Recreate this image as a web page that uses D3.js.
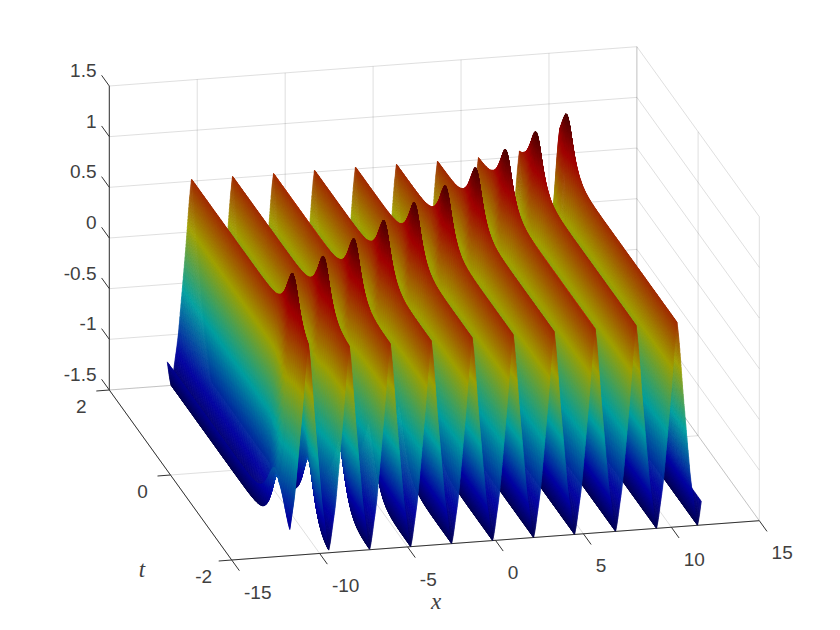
<!DOCTYPE html>
<html><head><meta charset="utf-8">
<style>html,body{margin:0;background:#fff}#w{position:relative;width:840px;height:630px}svg,canvas{position:absolute;left:0;top:0;display:block}text{font-family:"Liberation Sans",Arial,sans-serif;fill:#404040}</style>
<script src="https://cdn.jsdelivr.net/npm/d3@7"></script></head><body><div id="w"></div>
<script>
// Axis ticks
const xTicks=[-15,-10,-5,0,5,10,15];
const tTicks=[-2,0,2];
const zTicks=[-1.5,-1,-0.5,0,0.5,1,1.5];
const zTickLabels=["-1.5","-1","-0.5","0","0.5","1","1.5"];
// Ridges (x of the crest on the front edge t=-2, ascending)
const ridgeCenters=[-10.65,-8.32,-5.99,-3.66,-1.33,1.0,3.33,5.66,7.99,10.32];
// t at which the diagonal wave crosses each ridge
const peakT=[-1.44,-1.11,-0.77,-0.41,-0.065,0.26,0.61,0.97,1.32,1.66];
// Ridge cross-section, sampled evenly from crest (first) to valley (last)
const profileZ=[0.52,0.38,0.17,-0.07,-0.28,-0.47,-0.67,-0.86,-1.05,-1.17,-1.29,-1.42,-1.5];
// Height the diagonal wave adds, sampled evenly from crest to valley
const bumpA=[0.5,0.68,0.72,0.62,0.6];
const ridgePeriod=2.33, crestShift=0.33, bumpWidth=0.32, shiftWidth=0.25;
const halfPeriod=1.165;
const xExtent=[-11.7,11.7], tExtent=[-2,2];
const jetStops=[0,0.125,0.375,0.625,0.875,1];
const jetColors=["#000080","#0000ff","#00ffff","#ffff00","#ff0000","#800000"];

const W=840,H=630;
const root=d3.select("#w");
const svg=root.append("svg").attr("width",W).attr("height",H);
const ctx=root.append("canvas").attr("width",W).attr("height",H).node().getContext("2d");
// Oblique axes of the box, in pixels
const sx0=d3.scaleLinear([-15,15],[0,527.6]), sy0=d3.scaleLinear([-15,15],[0,-39.3]);
const tx=d3.scaleLinear([2,-2],[0,122.4]), ty=d3.scaleLinear([2,-2],[0,170]);
const zy=d3.scaleLinear([-1.5,1.5],[0,-304]);
const P=(x,t,z)=>[109.3+sx0(x)+tx(t),390+sy0(x)+ty(t)+zy(z)];

const tkAt=d3.scaleLinear(ridgeCenters,peakT);
const dNorm=d3.scaleLinear([0,halfPeriod],[0,1]).clamp(true);
const profI=d3.interpolateBasis(profileZ), bumpI=d3.interpolateBasis(bumpA);
const sech2=u=>{const c=Math.cosh(u);return 1/(c*c)};
function surf(x,t){
  const tk=tkAt(x);
  const s=crestShift*(1+Math.tanh((t-tk)/shiftWidth))/2;
  let m=(x-s-ridgeCenters[0])%ridgePeriod; if(m<0)m+=ridgePeriod;
  const d=dNorm(Math.min(m,ridgePeriod-m));
  return profI(d)+bumpI(d)*sech2((t-tk)/bumpWidth);
}
const jet=d3.scaleLinear(jetStops.map(f=>-1.5+2.5*f),jetColors).clamp(true);
const lightFade=d3.scaleLinear([0.55,0.7],[1,0]).clamp(true);

// Grid
const grid=svg.append("g").attr("fill","none").attr("stroke","#262626").attr("stroke-opacity",0.15);
const seg=(g,a,b)=>g.append("line").attr("x1",a[0]).attr("y1",a[1]).attr("x2",b[0]).attr("y2",b[1]);
xTicks.forEach(x=>{seg(grid,P(x,-2,-1.5),P(x,2,-1.5));seg(grid,P(x,2,-1.5),P(x,2,1.5));});
tTicks.forEach(t=>{seg(grid,P(-15,t,-1.5),P(15,t,-1.5));seg(grid,P(15,t,-1.5),P(15,t,1.5));});
zTicks.forEach(z=>{seg(grid,P(-15,2,z),P(15,2,z));seg(grid,P(15,2,z),P(15,-2,z));});

// Axes
const ax=svg.append("g").attr("stroke","#333").attr("stroke-width",1).attr("fill","none");
seg(ax,P(-15,2,-1.5),P(-15,2,1.5));seg(ax,P(-15,2,-1.5),P(-15,-2,-1.5));seg(ax,P(-15,-2,-1.5),P(15,-2,-1.5));
const xTickD=[7.7,10.7], tTickD=[-13,1], zTickD=[-7.7,-10.7];
const lab=svg.append("g").attr("font-size",19);
xTicks.forEach(x=>{const p=P(x,-2,-1.5);const e=[p[0]+xTickD[0],p[1]+xTickD[1]];seg(ax,p,e);
  lab.append("text").attr("x",e[0]+4.6).attr("y",e[1]+21.3).attr("dy","0.35em").text(String(x));});
tTicks.forEach(t=>{const p=P(-15,t,-1.5);seg(ax,p,[p[0]+tTickD[0],p[1]+tTickD[1]]);
  lab.append("text").attr("x",p[0]-28).attr("y",p[1]+16.5).attr("text-anchor","middle").attr("dy","0.35em").text(String(t));});
zTicks.forEach((z,i)=>{const p=P(-15,2,z);const e=[p[0]+zTickD[0],p[1]+zTickD[1]];seg(ax,p,e);
  lab.append("text").attr("x",96.5).attr("y",p[1]-15.5).attr("text-anchor","end").attr("dy","0.35em").text(zTickLabels[i]);});
svg.append("text").attr("x",436).attr("y",603).attr("text-anchor","middle").attr("dy","0.25em")
  .style("font-family","'Liberation Serif',serif").style("font-style","italic").attr("font-size",23).text("x");
svg.append("text").attr("x",142).attr("y",570).attr("text-anchor","middle").attr("dy","0.3em")
  .style("font-family","'Liberation Serif',serif").style("font-style","italic").attr("font-size",23).text("t");

// Surface: painter's order, far rows first, high x first
const nx=4000,nt=80;
const xs=d3.scaleLinear([0,nx],xExtent), ts=d3.scaleLinear([0,nt],[tExtent[1],tExtent[0]]);
const lut=d3.range(0,1601).map(i=>d3.rgb(jet(-1.5+i/1600*2.5)));
const row=t=>d3.range(nx+1).map(i=>surf(xs(i),t));
ctx.lineWidth=0.5;
let rowA=row(ts(0));
for(let j=0;j<nt;j++){
  const t0=ts(j),t1=ts(j+1),rowB=row(t1);
  for(let i=nx-1;i>=0;i--){
    const x0=xs(i),x1=xs(i+1);
    const a=rowA[i],b=rowA[i+1],c=rowB[i+1],e=rowB[i];
    const p0=P(x0,t0,a),p1=P(x1,t0,b),p2=P(x1,t1,c),p3=P(x0,t1,e);
    const z=(a+b+c+e)/4;
    const slope=Math.abs((b-a+c-e)/2/(x1-x0));
    const k=0.63+0.3*Math.exp(-Math.pow(slope/0.12,2))*lightFade(z);
    const col=lut[Math.max(0,Math.min(1600,Math.round((z+1.5)/2.5*1600)))];
    const f=`rgb(${col.r*k|0},${col.g*k|0},${col.b*k|0})`;
    ctx.fillStyle=f;ctx.strokeStyle=f;
    ctx.beginPath();ctx.moveTo(p0[0],p0[1]);ctx.lineTo(p1[0],p1[1]);ctx.lineTo(p2[0],p2[1]);ctx.lineTo(p3[0],p3[1]);ctx.closePath();ctx.fill();ctx.stroke();
  }
  rowA=rowB;
}
</script></body></html>
